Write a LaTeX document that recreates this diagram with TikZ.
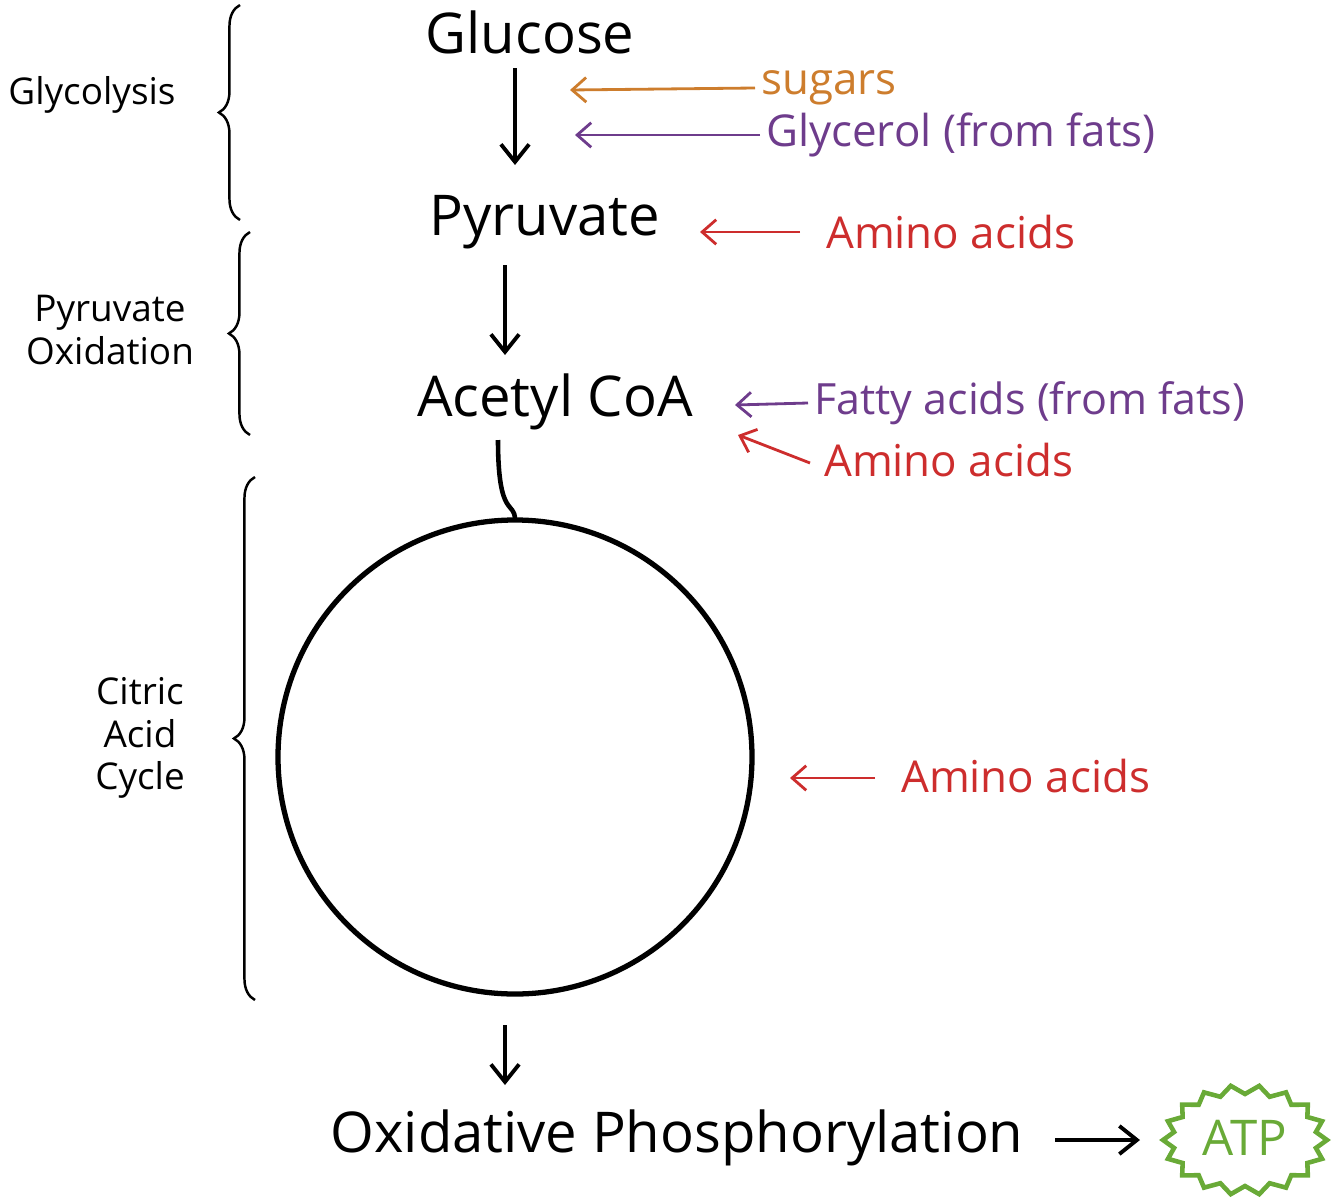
\documentclass[tikz,border=0pt]{standalone}
\usepackage{fontspec}
\setmainfont{Open Sans}
\usetikzlibrary{decorations.pathreplacing,arrows.meta}
\definecolor{corange}{RGB}{205,125,45}
\definecolor{cpurple}{RGB}{110,60,140}
\definecolor{cred}{RGB}{205,45,45}
\definecolor{cgreen}{RGB}{105,170,55}
\begin{document}
\begin{tikzpicture}[x=0.02cm,y=-0.02cm,
  big/.style={font=\fontsize{32}{36}\selectfont},
  side/.style={font=\fontsize{21}{24}\selectfont,align=center},
  lab/.style={font=\fontsize{25}{28}\selectfont,anchor=west},
  arr/.style={-{Straight Barb[length=10pt,width=16pt]},line width=2.2pt},
  carr/.style={-{Straight Barb[length=8pt,width=14pt]},line width=1.6pt},
  brace/.style={decorate,decoration={brace,amplitude=12pt},line width=1.4pt}]
\useasboundingbox (0,0) rectangle (1336,1200);
\node[big] (glu) at (530,32) {Glucose};
\node[big] (pyr) at (545,222) {Pyruvate};
\node[big] (ace) at (555,402) {Acetyl CoA};
\node[big] (ox) at (677,1138) {Oxidative Phosphorylation};
\draw[arr] (515,68) -- (515,165);
\draw[arr] (505,265) -- (505,355);
\draw[line width=2.6pt] (498,440) .. controls (498,520) and (515,500) .. (515,520);
\draw[line width=3pt] (515,757) ellipse [x radius=237,y radius=237];
\draw[arr] (505,1025) -- (505,1085);
\draw[arr] (1055,1140) -- (1140,1140);
% ATP starburst
\draw[cgreen,line width=2.6pt,fill=white]
  plot[samples at={0,10,...,350}] ({1245+(82+mod(\x/10,2)*(-10))*cos(\x)},{1140+(55+mod(\x/10,2)*(-9))*sin(\x)}) -- cycle;
\node[cgreen,font=\fontsize{28}{30}\selectfont] (atp) at (1245,1138) {ATP};
% side inputs
\node[lab,corange] (sug) at (755,88) {sugars};
\draw[carr,corange] (sug.west) -- (570,90);
\node[lab,cpurple] (gly) at (760,135) {Glycerol (from fats)};
\draw[carr,cpurple] (gly.west) -- (575,135);
\node[lab,cred] (am1) at (820,232) {Amino acids};
\draw[carr,cred] (800,232) -- (700,232);
\node[lab,cpurple,font=\fontsize{24.5}{28}\selectfont] (fat) at (808,403) {Fatty acids (from fats)};
\draw[carr,cpurple] (fat.west) -- (735,405);
\node[lab,cred] (am2) at (818,460) {Amino acids};
\draw[carr,cred] (810,463) -- (738,435);
\node[lab,cred] (am3) at (895,776) {Amino acids};
\draw[carr,cred] (875,778) -- (790,778);
% braces
\draw[brace] (240,220) -- (240,5);
\node[side] (g) at (92,95) {Glycolysis};
\draw[brace] (250,435) -- (250,232);
\node[side] (po) at (110,330) {Pyruvate\\Oxidation};
\draw[brace] (255,1000) -- (255,477);
\node[side] (cac) at (140,738) {Citric\\Acid\\Cycle};
\end{tikzpicture}
\end{document}
